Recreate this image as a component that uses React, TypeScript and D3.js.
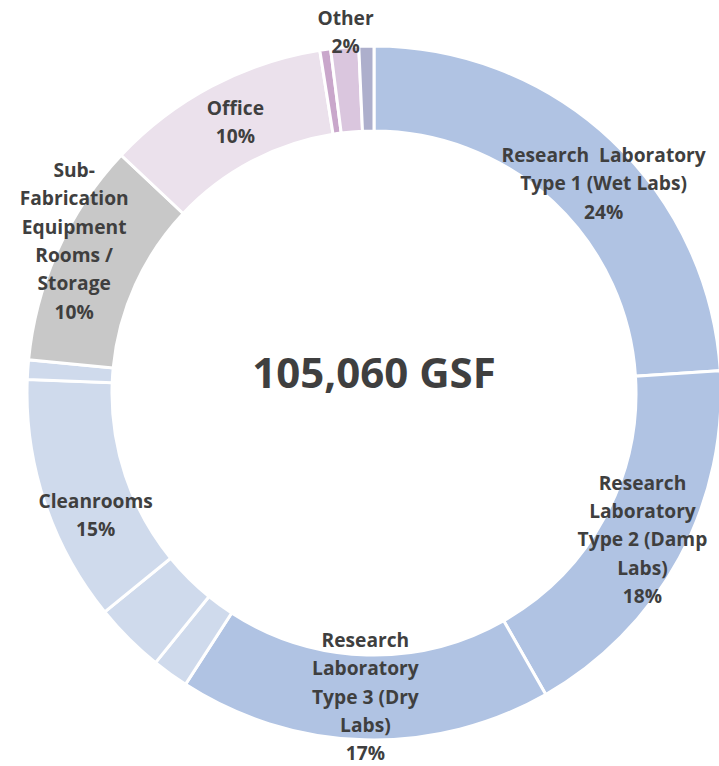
import * as React from 'react';
import * as d3 from 'd3';

// slices clockwise from 12 o'clock, share of 105,060 GSF (%)
const slices = [
  'Research Laboratory Type 1 (Wet Labs)',
  'Research Laboratory Type 2 (Damp Labs)',
  'Research Laboratory Type 3 (Dry Labs)',
  'Support A',
  'Support B',
  'Cleanrooms',
  'Support C',
  'Sub-Fabrication Equipment Rooms / Storage',
  'Office',
  'Other A',
  'Other',
  'Other B',
];
const shares = [24, 17.8, 17.4, 1.7, 3.3, 11.5, 0.9, 10.5, 10.5, 0.5, 1.3, 0.7];
const colors = [
  '#b0c3e3', '#b0c3e3', '#b0c3e3', '#cfdaec', '#cfdaec', '#cfdaec',
  '#cfdaec', '#c8c8c8', '#ebe1ec', '#c9a7cb', '#dac6de', '#adafcc',
];

// label text lines per slice (empty = no label)
const labelLines: string[][] = [
  ['Research  Laboratory', 'Type 1 (Wet Labs)', '24%'],
  ['Research', 'Laboratory', 'Type 2 (Damp', 'Labs)', '18%'],
  ['Research', 'Laboratory', 'Type 3 (Dry', 'Labs)', '17%'],
  [],
  [],
  ['Cleanrooms', '15%'],
  [],
  ['Sub-', 'Fabrication', 'Equipment', 'Rooms /', 'Storage', '10%'],
  ['Office', '10%'],
  [],
  ['Other', '2%'],
  [],
];
// label nudges from the centroid [dx, dy, radius]
const labelNudge: [number, number, number][] = [
  [21, 13, 305], [0, 2, 305], [0, -1, 305], [0, 0, 305], [0, 0, 305], [11, 26, 305],
  [0, 0, 305], [-22, -26, 305], [4, -1, 305], [0, 0, 305], [2, -2, 360], [0, 0, 305],
];

const centerText = '105,060 GSF';

const W = 719, H = 766;
const cx = 374, cy = 393;
const outerR = 347, innerR = 262;
const lineH = 28.3;

export default function App() {
  const pie = d3.pie<number>().sort(null).value(d => d);
  const arcs = pie(shares);
  const arc = d3.arc<d3.PieArcDatum<number>>().innerRadius(innerR).outerRadius(outerR);

  return (
    <svg width={W} height={H} style={{ position: 'absolute', left: 0, top: 0 }}
      fontFamily="'Open Sans', 'Noto Sans', sans-serif">
      <rect width={W} height={H} fill="#fff" />
      <g transform={`translate(${cx},${cy})`}>
        {arcs.map((a, i) => (
          <path key={slices[i]} d={arc(a) || ''} fill={colors[i]} stroke="#fff" strokeWidth={3} />
        ))}
        {arcs.map((a, i) => {
          const lines = labelLines[i];
          if (!lines.length) return null;
          const [dx, dy, r] = labelNudge[i];
          const mid = (a.startAngle + a.endAngle) / 2;
          const x = Math.sin(mid) * r + dx;
          const y = -Math.cos(mid) * r + dy;
          const top = y - ((lines.length - 1) * lineH) / 2;
          return (
            <text key={'l' + i} x={x} textAnchor="middle" fill="#3f3f3f" fontSize={19.2}
              fontWeight="bold" style={{ whiteSpace: 'pre' }}>
              {lines.map((t, j) => (
                <tspan key={j} x={x} y={top + j * lineH} dy="0.35em">{t}</tspan>
              ))}
            </text>
          );
        })}
        <text x={0} y={-20} dy="0.35em" textAnchor="middle" fill="#3f3f3f" fontSize={42}
          fontWeight="bold">{centerText}</text>
      </g>
    </svg>
  );
}
